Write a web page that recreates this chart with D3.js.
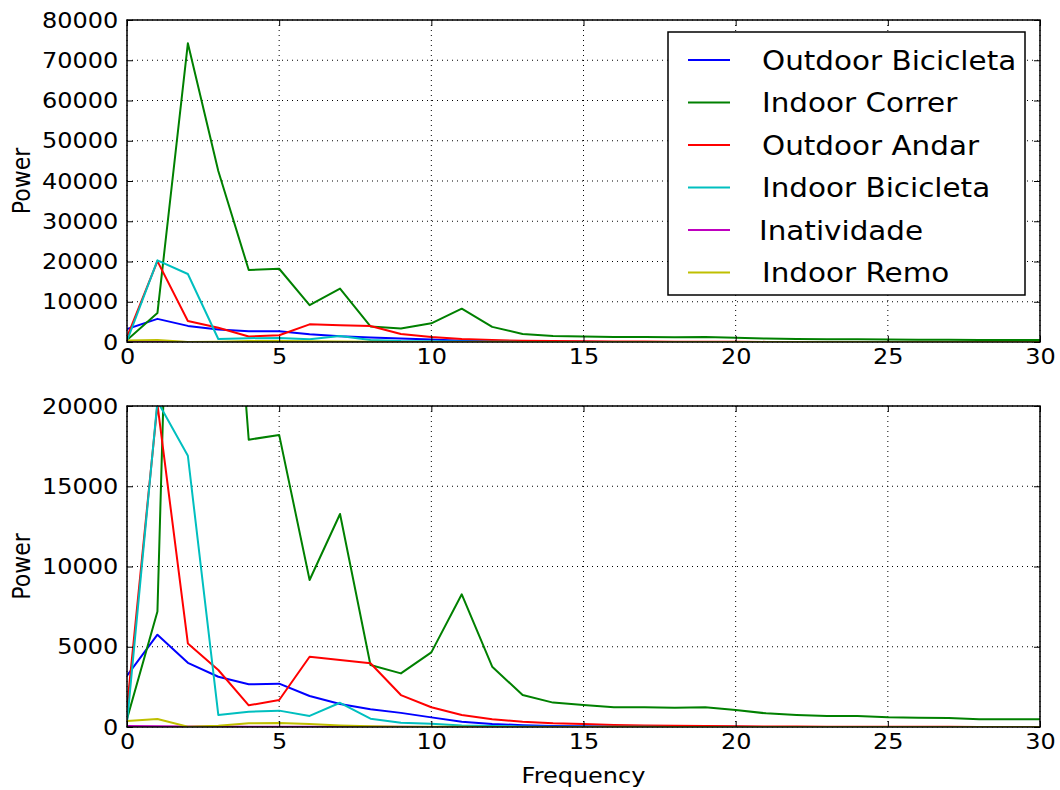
<!DOCTYPE html>
<html>
<head>
<meta charset="utf-8">
<script src="https://cdn.jsdelivr.net/npm/d3@7"></script>
<style>
  body { margin: 0; background: #fff; }
  text { font-family: "DejaVu Sans", sans-serif; fill: #000; }
</style>
</head>
<body>
<div id="chart"></div>
<script>
// frequency bins 0..30
const freqs = d3.range(0, 31);

const outdoorBicicleta = [3200, 5750, 4000, 3130, 2660, 2700, 1930, 1430, 1100, 880, 600, 330, 190, 110, 70, 45, 30, 20, 15, 10, 8, 6, 5, 4, 3, 3, 2, 2, 2, 2, 2];
const indoorCorrer = [500, 7200, 74200, 42500, 17900, 18200, 9160, 13270, 3860, 3340, 4650, 8270, 3760, 1990, 1520, 1370, 1230, 1230, 1200, 1230, 1060, 850, 750, 690, 680, 600, 580, 560, 480, 490, 480];
const outdoorAndar = [1200, 20100, 5210, 3550, 1350, 1680, 4380, 4170, 3970, 1990, 1230, 750, 480, 330, 230, 190, 130, 100, 80, 60, 40, 30, 25, 20, 15, 12, 10, 8, 6, 5, 4];
const indoorBicicleta = [250, 20300, 16900, 750, 950, 1020, 690, 1510, 520, 270, 200, 100, 60, 30, 20, 15, 10, 8, 6, 5, 4, 3, 3, 2, 2, 2, 2, 1, 1, 1, 1];
const inatividade = [60, 40, 30, 25, 20, 18, 15, 12, 10, 8, 6, 5, 4, 3, 3, 2, 2, 2, 1, 1, 1, 1, 1, 1, 1, 1, 1, 1, 1, 1, 1];
const indoorRemo = [370, 500, 20, 80, 230, 250, 180, 100, 50, 20, 10, 8, 6, 5, 4, 3, 2, 2, 1, 1, 1, 1, 1, 1, 1, 1, 1, 1, 1, 1, 1];

const seriesNames = ["Outdoor Bicicleta", "Indoor Correr", "Outdoor Andar", "Indoor Bicicleta", "Inatividade", "Indoor Remo"];
const seriesValues = [outdoorBicicleta, indoorCorrer, outdoorAndar, indoorBicicleta, inatividade, indoorRemo];
const colors = ["#0000ff", "#008000", "#ff0000", "#00bfbf", "#bf00bf", "#bfbf00"];

const xTicks = [0, 5, 10, 15, 20, 25, 30];
const yTicksTop = [0, 10000, 20000, 30000, 40000, 50000, 60000, 70000, 80000];
const yTicksBottom = [0, 5000, 10000, 15000, 20000];

const W = 1060, H = 790;
const left = 127, right = 1040;
const stretch = 1.09; // text in the picture is a bit wide

const svg = d3.select("#chart").append("svg")
    .attr("width", W)
    .attr("height", H);

const x = d3.scaleLinear().domain([0, 30]).range([left, right]);

function wideText(sel, px, py) {
    sel.attr("transform", `translate(${px},${py}) scale(${stretch},1)`);
}

function drawPanel(top, bottom, yMax, yTicks, id) {
    const y = d3.scaleLinear().domain([0, yMax]).range([bottom, top]);

    svg.append("clipPath").attr("id", id)
        .append("rect")
        .attr("x", left).attr("y", top)
        .attr("width", right - left).attr("height", bottom - top);

    // dotted grid
    const grid = svg.append("g");
    xTicks.forEach(t => {
        grid.append("line")
            .attr("x1", x(t)).attr("x2", x(t))
            .attr("y1", top).attr("y2", bottom)
            .attr("stroke", "#000").attr("stroke-width", 1)
            .attr("stroke-dasharray", "1,4");
    });
    yTicks.forEach(t => {
        grid.append("line")
            .attr("x1", left).attr("x2", right)
            .attr("y1", y(t)).attr("y2", y(t))
            .attr("stroke", "#000").attr("stroke-width", 1)
            .attr("stroke-dasharray", "1,4");
    });

    const line = d3.line()
        .x((d, i) => x(freqs[i]))
        .y(d => y(d));

    const lines = svg.append("g").attr("clip-path", `url(#${id})`);
    seriesValues.forEach((vals, i) => {
        lines.append("path")
            .datum(vals)
            .attr("fill", "none")
            .attr("stroke", colors[i])
            .attr("stroke-width", 2)
            .attr("stroke-linejoin", "round")
            .attr("d", line);
    });

    // axes with inward ticks on all sides
    const ax = svg.append("g").attr("class", "axes");
    ax.append("g")
        .attr("transform", `translate(0,${bottom})`)
        .call(d3.axisBottom(x).tickValues(xTicks).tickSize(-6).tickPadding(6).tickFormat(d3.format("d")));
    ax.append("g")
        .attr("transform", `translate(0,${top})`)
        .call(d3.axisTop(x).tickValues(xTicks).tickSize(-6).tickFormat(""));
    ax.append("g")
        .attr("transform", `translate(${left},0)`)
        .call(d3.axisLeft(y).tickValues(yTicks).tickSize(-6).tickPadding(8).tickFormat(d3.format("d")));
    ax.append("g")
        .attr("transform", `translate(${right},0)`)
        .call(d3.axisRight(y).tickValues(yTicks).tickSize(-6).tickFormat(""));

    ax.selectAll(".domain").remove();
    ax.selectAll("line").attr("stroke", "#000").attr("stroke-width", 1);
    ax.selectAll("text")
        .style("font-family", "'DejaVu Sans', sans-serif")
        .style("font-size", "22px")
        .attr("transform", `scale(${stretch},1)`);

    svg.append("rect")
        .attr("x", left).attr("y", top)
        .attr("width", right - left).attr("height", bottom - top)
        .attr("fill", "none").attr("stroke", "#000").attr("stroke-width", 1.5);

    svg.append("text")
        .attr("transform", `translate(30,${(top + bottom) / 2}) rotate(-90) scale(1,${stretch})`)
        .attr("text-anchor", "middle")
        .style("font-size", "22px")
        .text("Power");

    return y;
}

drawPanel(20, 342, 80000, yTicksTop, "clipTop");
drawPanel(406, 727, 20000, yTicksBottom, "clipBottom");

svg.append("text")
    .attr("text-anchor", "middle")
    .style("font-size", "22px")
    .text("Frequency")
    .call(wideText, (left + right) / 2, 783);

// legend
const legend = svg.append("g");
legend.append("rect")
    .attr("x", 668).attr("y", 32)
    .attr("width", 357).attr("height", 263)
    .attr("fill", "#fff").attr("stroke", "#000").attr("stroke-width", 1.5);

seriesNames.forEach((name, i) => {
    const cy = 60 + i * 42.5;
    legend.append("line")
        .attr("x1", 688).attr("x2", 730)
        .attr("y1", cy).attr("y2", cy)
        .attr("stroke", colors[i]).attr("stroke-width", 2);
    legend.append("text")
        .attr("dy", "0.36em")
        .style("font-size", "27px")
        .text(name)
        .call(wideText, name === "Inatividade" ? 759 : 762, cy);
});
</script>
</body>
</html>
